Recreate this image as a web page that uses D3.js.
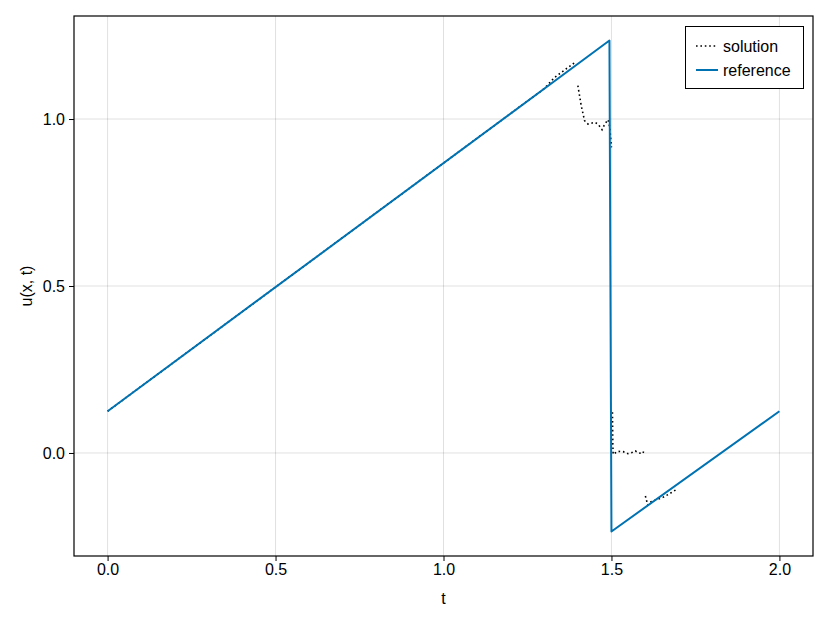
<!DOCTYPE html>
<html><head><meta charset="utf-8">
<script src="https://cdn.jsdelivr.net/npm/d3@7"></script>
<style>body{margin:0;background:#fff}</style>
</head><body><svg id="c" width="830" height="623"></svg>
<script>
// Data
const refT = [0, 1.494, 1.5, 2.0];
const refU = [0.125, 1.235, -0.235, 0.125];
// solution segments (separated by null)
const solT = [0, 1.3, 1.33, 1.392, null,
  1.40, 1.41, 1.42, 1.43, 1.45, 1.46, 1.472, 1.48, 1.49, 1.495, 1.5, null,
  1.503, 1.504, 1.505, 1.519, 1.535, 1.549, 1.56, 1.571, 1.582, 1.593, 1.598, null,
  1.601, 1.608, 1.618, 1.633, 1.653, 1.673, 1.694];
const solU = [0.125, 1.091, 1.124, 1.170, null,
  1.10, 1.04, 0.995, 0.985, 0.99, 0.985, 0.968, 0.985, 0.998, 0.975, 0.915, null,
  0.122, 0.03, -0.004, 0.005, 0.004, -0.002, 0.001, 0.006, 0.0, -0.002, 0.010, null,
  -0.129, -0.156, -0.146, -0.140, -0.133, -0.122, -0.109];
const xTicks = [0, 0.5, 1.0, 1.5, 2.0];
const yTicks = [0, 0.5, 1.0];
const legendLabels = ["solution", "reference"];

const svg = d3.select("#c");
const L = 74, R = 813, T = 16, B = 556;
const x = d3.scaleLinear().domain([-0.1, 2.1]).range([L, R]);
const y = d3.scaleLinear().domain([-0.3085, 1.3085]).range([B, T]);
const font = "'Liberation Sans', Arial, sans-serif";
const fs = 16;

// grid
svg.append("g").selectAll("line").data(xTicks).join("line")
  .attr("x1", d => x(d)).attr("x2", d => x(d)).attr("y1", T).attr("y2", B)
  .attr("stroke", "#000").attr("stroke-opacity", 0.12).attr("stroke-width", 1);
svg.append("g").selectAll("line").data(yTicks).join("line")
  .attr("y1", d => y(d)).attr("y2", d => y(d)).attr("x1", L).attr("x2", R)
  .attr("stroke", "#000").attr("stroke-opacity", 0.12).attr("stroke-width", 1);

// axes
const xAxis = d3.axisBottom(x).tickValues(xTicks).tickFormat(d3.format(".1f")).tickSize(5).tickPadding(3);
const yAxis = d3.axisLeft(y).tickValues(yTicks).tickFormat(d3.format(".1f")).tickSize(5).tickPadding(4);
const gx = svg.append("g").attr("transform", `translate(0,${B})`).call(xAxis);
const gy = svg.append("g").attr("transform", `translate(${L},0)`).call(yAxis);
[gx, gy].forEach(g => {
  g.select(".domain").remove();
  g.selectAll("line").attr("stroke", "#000").attr("stroke-width", 1);
  g.selectAll("text").attr("font-family", font).attr("font-size", fs).attr("fill", "#000");
});

// lines
const line = d3.line().defined(d => d[0] !== null).x(d => x(d[0])).y(d => y(d[1]));
const clip = svg.append("clipPath").attr("id", "clp").append("rect")
  .attr("x", L).attr("y", T).attr("width", R - L).attr("height", B - T);
svg.append("path").datum(solT.map((t, i) => [t, solU[i]]))
  .attr("d", line).attr("fill", "none").attr("stroke", "#000")
  .attr("stroke-width", 1.6).attr("stroke-dasharray", "1.6,2.8").attr("clip-path", "url(#clp)");
svg.append("path").datum(refT.map((t, i) => [t, refU[i]]))
  .attr("d", line).attr("fill", "none").attr("stroke", "#0072b2")
  .attr("stroke-width", 2).attr("stroke-linejoin", "round").attr("clip-path", "url(#clp)");

// frame
svg.append("rect").attr("x", L).attr("y", T).attr("width", R - L).attr("height", B - T)
  .attr("fill", "none").attr("stroke", "#000").attr("stroke-width", 1.2);

// axis labels
svg.append("text").attr("x", (L + R) / 2).attr("y", 604).attr("text-anchor", "middle")
  .attr("font-family", font).attr("font-size", fs).text("t");
svg.append("text").attr("transform", `translate(32,${(T + B) / 2}) rotate(-90)`)
  .attr("text-anchor", "middle").attr("font-family", font).attr("font-size", fs).text("u(x, t)");

// legend
const lg = svg.append("g");
lg.append("rect").attr("x", 685.5).attr("y", 26.5).attr("width", 118).attr("height", 62)
  .attr("fill", "#fff").attr("stroke", "#000").attr("stroke-width", 1);
const styles = [{c: "#000", w: 1.6, d: "1.6,2.8"}, {c: "#0072b2", w: 2, d: null}];
legendLabels.forEach((lab, i) => {
  const cy = 46 + i * 24;
  lg.append("line").attr("x1", 696).attr("x2", 718).attr("y1", cy).attr("y2", cy)
    .attr("stroke", styles[i].c).attr("stroke-width", styles[i].w)
    .attr("stroke-dasharray", styles[i].d);
  lg.append("text").attr("x", 723).attr("y", cy).attr("dy", "0.35em")
    .attr("font-family", font).attr("font-size", fs).text(lab);
});
</script></body></html>
